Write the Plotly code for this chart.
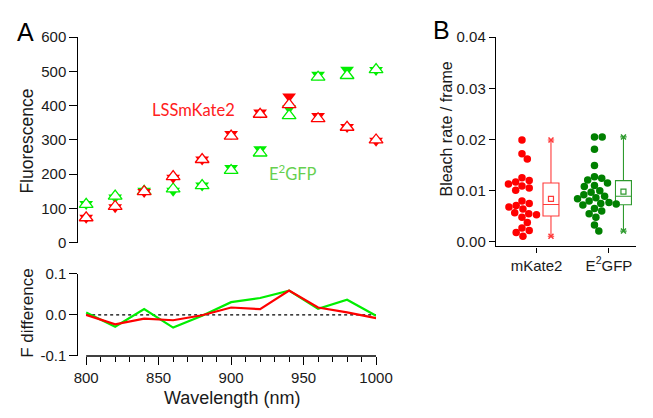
import numpy as np
import plotly.graph_objects as go

# ---------------- data ----------------
wavelength = [800, 820, 840, 860, 880, 900, 920, 940, 960, 980, 1000]
lss_open = [73, 106, 149, 193, 243, 311, 375, 403, 362, 337, 300]
lss_filled = [73, 104, 148, 190, 243, 317, 380, 427, 370, 338, 298]
gfp_open = [112, 136, 150, 157, 167, 211, 262, 371, 483, 488, 505]
gfp_filled = [113, 132, 152, 152, 167, 218, 273, 393, 490, 505, 504]
lss_diff = [0.0, -0.023, -0.009, -0.013, -0.001, 0.018, 0.014, 0.059, 0.018, 0.006, -0.008]
gfp_diff = [0.006, -0.029, 0.014, -0.031, -0.002, 0.031, 0.041, 0.059, 0.015, 0.037, -0.002]

mkate2_rate = [0.0199, 0.0172, 0.0162, 0.0125, 0.0120, 0.0117, 0.0113, 0.0109, 0.0105,
               0.0101, 0.0080, 0.0075, 0.0071, 0.0068, 0.0064, 0.0057, 0.0055, 0.0053,
               0.0048, 0.0038, 0.0027, 0.0022, 0.0018, 0.0011]
e2gfp_rate = [0.0205, 0.0205, 0.0181, 0.0149, 0.0127, 0.0124, 0.0121, 0.0115, 0.0110,
              0.0108, 0.0100, 0.0097, 0.0092, 0.0089, 0.0086, 0.0084, 0.0080, 0.0077,
              0.0075, 0.0074, 0.0072, 0.0065, 0.0060, 0.0055, 0.0048, 0.0033, 0.0021]
categories = ["mKate2", "E<sup>2</sup>GFP"]

RED = "#ff0000"
LIME = "#00ee00"
DKGREEN = "#008000"
W, H = 653, 418
FONT = "Liberation Sans, Arial, sans-serif"


def px(x):
    return x / W


def py(y):
    return 1 - y / H


def swarm(vals, yscale, xscale, d):
    placed = []
    res = [0.0] * len(vals)
    cands = [0.0]
    for k in range(1, 80):
        cands += [k * 0.5, -k * 0.5]
    for i in np.argsort(vals)[::-1]:
        yy = vals[i] * yscale
        for c in cands:
            if all((c - a) ** 2 + (yy - b) ** 2 >= d * d for a, b in placed):
                break
        placed.append((c, yy))
        res[i] = c / xscale
    return res


fig = go.Figure()

# ---------------- panel A top ----------------
traces_top = [
    (gfp_filled, LIME, "triangle-down", True),
    (gfp_open, LIME, "triangle-up", False),
    (lss_filled, RED, "triangle-down", True),
    (lss_open, RED, "triangle-up", False),
]
for ys, col, sym, filled in traces_top:
    fig.add_trace(go.Scatter(
        x=wavelength, y=ys, mode="markers", xaxis="x", yaxis="y", cliponaxis=False,
        marker=dict(symbol=sym, size=12,
                    color=col if filled else "white",
                    line=dict(color=col, width=0 if filled else 1.3)),
        showlegend=False, hoverinfo="skip"))

# ---------------- panel A bottom ----------------
fig.add_trace(go.Scatter(x=wavelength, y=gfp_diff, mode="lines", xaxis="x2", yaxis="y2",
                         line=dict(color=LIME, width=2.2), showlegend=False))
fig.add_trace(go.Scatter(x=wavelength, y=lss_diff, mode="lines", xaxis="x2", yaxis="y2",
                         line=dict(color=RED, width=2.2), showlegend=False))

# ---------------- panel B ----------------
B_XSCALE = 75.0   # px per category unit
B_YSCALE = 5333.0  # px per unit rate
for ci, (vals, dotcol, boxcol) in enumerate([(mkate2_rate, RED, "#ff3a3a"),
                                             (e2gfp_rate, DKGREEN, "#2e9a2e")]):
    offs = swarm(vals, B_YSCALE, B_XSCALE, 7.6)
    fig.add_trace(go.Scatter(
        x=[ci - 0.2 + o for o in offs], y=vals, mode="markers", xaxis="x3", yaxis="y3",
        marker=dict(symbol="circle", size=7.5, color=dotcol, line=dict(width=0)),
        showlegend=False, hoverinfo="skip"))
    fig.add_trace(go.Box(
        x=[ci + 0.2] * len(vals), y=vals, xaxis="x3", yaxis="y3",
        boxpoints=False, width=0.22, quartilemethod="linear", whiskerwidth=0.4,
        fillcolor="white", line=dict(color=boxcol, width=1.1), showlegend=False,
        hoverinfo="skip"))
    fig.add_trace(go.Scatter(
        x=[ci + 0.2], y=[float(np.mean(vals))], mode="markers", xaxis="x3", yaxis="y3",
        marker=dict(symbol="square-open", size=5, color=boxcol, line=dict(width=1.2)),
        showlegend=False, hoverinfo="skip"))
    fig.add_trace(go.Scatter(
        x=[ci + 0.2, ci + 0.2], y=[min(vals), max(vals)], mode="markers", xaxis="x3", yaxis="y3",
        marker=dict(symbol="x-thin", size=5, color=boxcol, line=dict(width=1.5, color=boxcol)),
        showlegend=False, hoverinfo="skip"))

# ---------------- layout ----------------
xA_left = 800 - 8 * (200 / 300)
axis_common = dict(showgrid=False, zeroline=False, linecolor="black", linewidth=1.3,
                   tickcolor="black", tickwidth=1.3, ticks="outside",
                   tickfont=dict(family=FONT, size=15, color="#1a1a1a"))

fig.update_layout(
    width=W, height=H, margin=dict(l=0, r=0, t=0, b=0),
    paper_bgcolor="white", plot_bgcolor="white",
    xaxis=dict(domain=[px(76), px(384)], range=[xA_left, 1000], anchor="y",
               showticklabels=False, ticks="", showline=False, showgrid=False, zeroline=False),
    yaxis=dict(domain=[py(243.7), py(29.3)], range=[0, 600], anchor="x",
               tickmode="linear", tick0=0, dtick=100, ticklen=8, showline=True,
               **axis_common),
    xaxis2=dict(domain=[px(76), px(384)], range=[xA_left, 1000], anchor="y2",
                tickmode="linear", tick0=800, dtick=50, ticklen=8, showline=False,
                minor=dict(tickmode="linear", tick0=800, dtick=10, ticklen=5, ticks="outside",
                           tickcolor="black", tickwidth=1.3),
                **axis_common),
    yaxis2=dict(domain=[py(361.7), py(276)], range=[-0.1, 0.1], anchor="x2",
                tickvals=[-0.1, 0, 0.1], ticktext=["-0.1", "0.0", "0.1"], ticklen=8,
                showline=True, **axis_common),
    xaxis3=dict(domain=[px(508), 1.0], range=[-0.56, 1.373], anchor="y3",
                tickvals=[0, 1], ticktext=categories, ticklen=5, showline=True,
                **axis_common),
    yaxis3=dict(domain=[py(247.5), py(29.3)], range=[-0.0009, 0.04], anchor="x3",
                tickvals=[0, 0.01, 0.02, 0.03, 0.04],
                ticktext=["0.00", "0.01", "0.02", "0.03", "0.04"], ticklen=6,
                showline=True, **axis_common),
)

# x axis line of bottom panel spanning 800..1000 only, and dotted zero line
fig.add_shape(type="line", xref="x2", yref="y2 domain", x0=800, x1=1000, y0=0, y1=0,
              line=dict(color="black", width=1.3))
fig.add_shape(type="line", xref="x2", yref="y2", x0=800, x1=1000, y0=0, y1=0,
              line=dict(color="black", width=1.1, dash="dot"), layer="below")

ann = [
    dict(text="A", x=px(21), y=py(23.5), font=dict(size=25, color="black", family=FONT)),
    dict(text="B", x=px(452), y=py(22), font=dict(size=25, color="black", family=FONT)),
    dict(text="Fluorescence", x=px(23), y=py(138), textangle=-90,
         font=dict(size=17.5, color="#1a1a1a", family=FONT)),
    dict(text="F difference", x=px(23), y=py(317.5), textangle=-90,
         font=dict(size=17, color="#1a1a1a", family=FONT)),
    dict(text="Wavelength (nm)", x=px(235), y=py(406), font=dict(size=18, color="#1a1a1a", family=FONT)),
    dict(text="Bleach rate / frame", x=px(457), y=py(125), textangle=-90,
         font=dict(size=16, color="#1a1a1a", family=FONT)),
    dict(text="LSSmKate2", x=px(195.5), y=py(105), font=dict(size=16.5, color="#ff2020", family="Lato")),
    dict(text="E<sup>2</sup>GFP", x=px(298), y=py(171), font=dict(size=16.5, color="#66d04f", family="Lato")),
]
for a in ann:
    fig.add_annotation(xref="paper", yref="paper", showarrow=False,
                       xanchor="center", yanchor="middle", **a)

fig.write_html("out.html")
